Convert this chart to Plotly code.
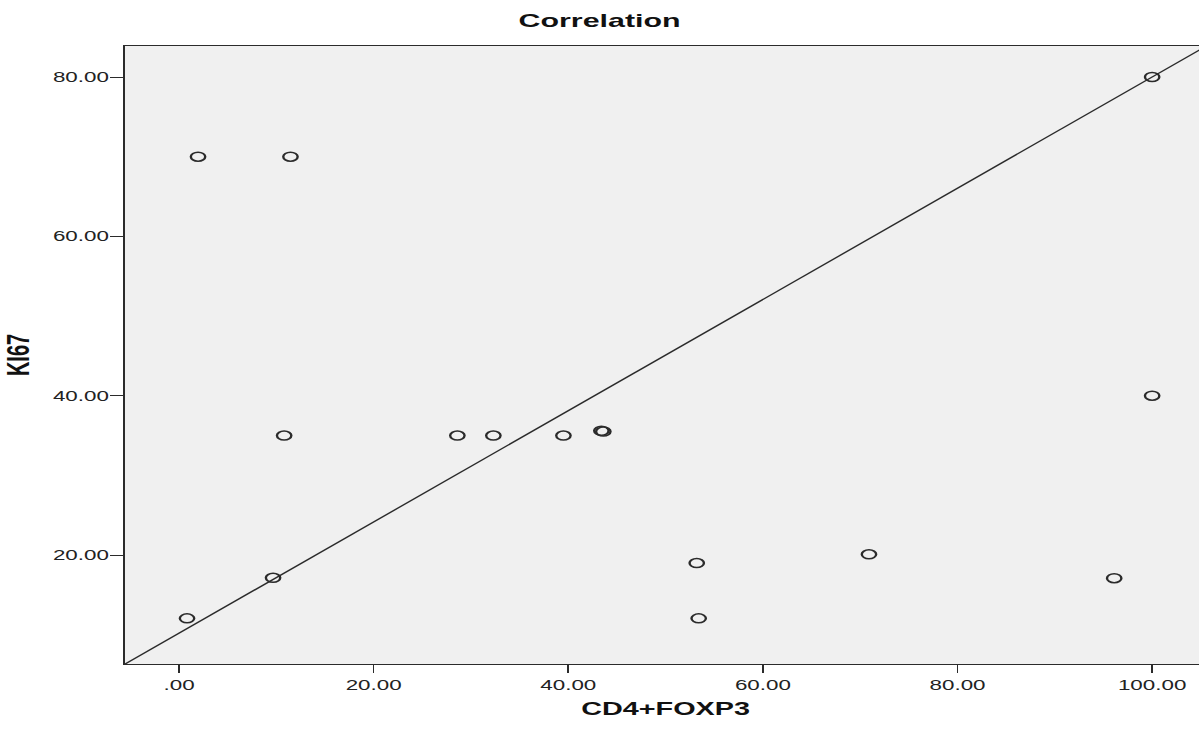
import plotly.graph_objects as go

# CD4+FOXP3 vs KI67 observations
cd4_foxp3 = [1.95, 11.45, 100.0, 100.0, 10.8, 28.6, 32.3, 39.5, 43.4, 43.6,
             70.9, 53.2, 53.4, 96.1, 9.66, 0.82]
ki67 = [70.0, 70.0, 80.0, 40.0, 35.0, 35.0, 35.0, 35.0, 35.6, 35.5,
        20.1, 19.0, 12.06, 17.1, 17.15, 12.06]

# reference line  y = intercept + slope * x
line_intercept = 10.2
line_slope = 0.698

x_range = [-5.575, 105.575]
y_range = [6.33, 83.89]

x_tickvals = [0, 20, 40, 60, 80, 100]
x_ticktext = [".00", "20.00", "40.00", "60.00", "80.00", "100.00"]
y_tickvals = [20, 40, 60, 80]
y_ticktext = ["20.00", "40.00", "60.00", "80.00"]

# horizontal stretch applied to the rendered chart
STRETCH = 1.6

ink = "#2b2b2b"
font_family = "Liberation Sans, Arial, sans-serif"

fig = go.Figure()

line_x = x_range
line_y = [line_intercept + line_slope * v for v in line_x]
fig.add_trace(go.Scatter(
    x=line_x, y=line_y, mode="lines",
    line=dict(color=ink, width=1.2),
    hoverinfo="skip", showlegend=False,
))

fig.add_trace(go.Scatter(
    x=cd4_foxp3, y=ki67, mode="markers",
    marker=dict(symbol="circle-open", size=9, color=ink,
                line=dict(width=1.5, color=ink)),
    showlegend=False, cliponaxis=False,
))

axis_common = dict(
    showgrid=False, zeroline=False,
    showline=True, linecolor=ink, linewidth=1.3, mirror=True,
    ticks="outside", ticklen=8, tickwidth=1.3, tickcolor=ink,
    tickfont=dict(family=font_family, size=14, color="#222222"),
)

fig.update_layout(
    width=754, height=729,
    margin=dict(l=78, r=0, t=46, b=65),
    paper_bgcolor="white",
    plot_bgcolor="#f0f0f0",
    title=dict(
        text="<b>Correlation</b>",
        font=dict(family=font_family, size=19, color="#111111"),
        x=0.497, xref="container", xanchor="center",
        y=0.972, yref="container", yanchor="middle",
    ),
    xaxis=dict(
        **axis_common,
        range=x_range,
        tickvals=x_tickvals, ticktext=x_ticktext,
        title=dict(text="<b>CD4+FOXP3</b>", standoff=10,
                   font=dict(family=font_family, size=18, color="#111111")),
    ),
    yaxis=dict(
        **axis_common,
        range=y_range,
        tickvals=y_tickvals, ticktext=y_ticktext,
        ticklabelstandoff=-2,
        title=dict(text="<b>KI67</b>", standoff=14,
                   font=dict(family=font_family, size=20, color="#111111")),
    ),
)

stretch_js = (
    "var gd = document.getElementById('{plot_id}');"
    "document.documentElement.style.overflow = 'hidden';"
    "document.body.style.overflow = 'hidden';"
    "document.body.style.margin = '0';"
    "gd.style.transformOrigin = '0 0';"
    "gd.style.transform = 'scaleX(" + str(STRETCH) + ")';"
)

fig.write_html("out.html", post_script=stretch_js)
